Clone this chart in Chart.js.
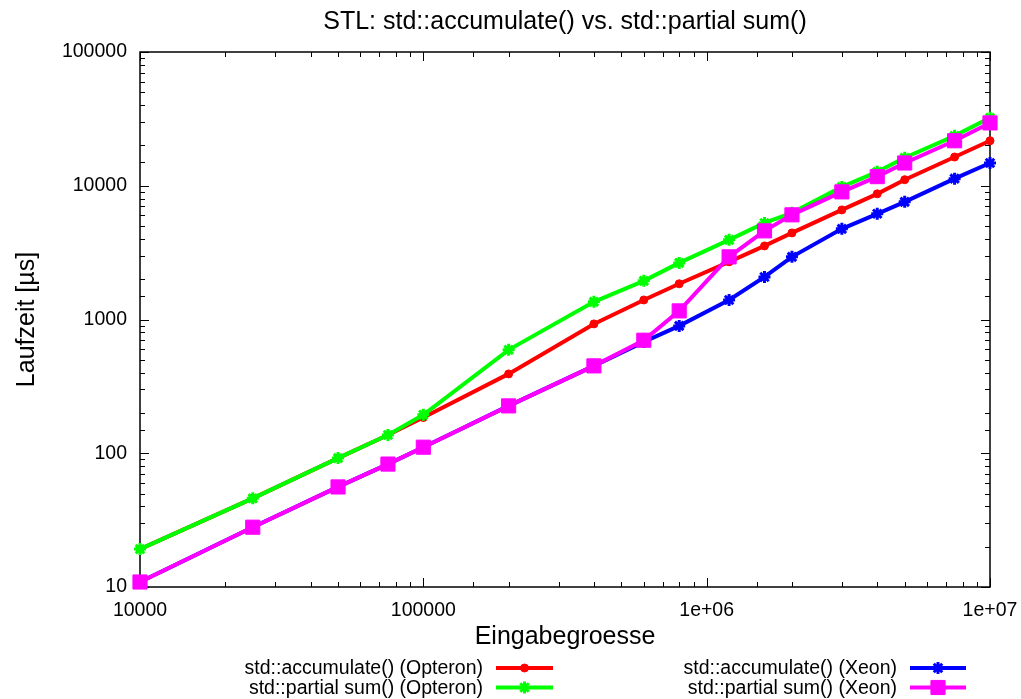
<!DOCTYPE html>
<html>
<head>
<meta charset="utf-8">
<title>STL: std::accumulate() vs. std::partial sum()</title>
<script src="https://cdn.jsdelivr.net/npm/chart.js@4.4.0/dist/chart.umd.min.js"></script>
<style>
  html, body { margin: 0; padding: 0; background: #fff; }
  canvas { display: block; }
</style>
</head>
<body>
<canvas id="stlChart" width="1021" height="699"></canvas>
<script>
// input sizes (Eingabegroesse)
const sizes = [10000, 25000, 50000, 75000, 100000, 200000, 400000, 600000, 800000,
  1200000, 1600000, 2000000, 3000000, 4000000, 5000000, 7500000, 10000000];

// run times in µs
const accOpteron  = [19.2, 46, 92, 137, 185, 392, 927, 1400, 1850, 2700, 3550, 4440, 6600, 8700, 11100, 16400, 21700];
const psumOpteron = [19.2, 46, 92, 137, 194, 593, 1355, 1945, 2650, 3940, 5270, 6270, 9800, 12700, 16200, 23600, 32200];
const accXeon     = [10.9, 28, 56, 83, 111, 226, 450, 680, 896, 1400, 2080, 2940, 4760, 6170, 7580, 11300, 14800];
const psumXeon    = [10.9, 28, 56, 83, 111, 226, 450, 700, 1160, 2940, 4600, 6060, 9000, 11700, 14800, 21700, 29500];

// labelled decades
const xTicks = [10000, 100000, 1000000, 10000000];
const yTicks = [10, 100, 1000, 10000, 100000];

const FONT = "'Liberation Sans', Arial, Helvetica, sans-serif";

function isDecade(v) {
  const e = Math.log10(v);
  return Math.abs(e - Math.round(e)) < 1e-9;
}

function hasTick(list, v) {
  return list.some(t => Math.abs(t - v) / t < 1e-9);
}

// gnuplot style: 100000, 1e+06, 1e+07
function gnuFmt(v) {
  if (v < 1e6) return String(Math.round(v));
  const e = Math.round(Math.log10(v));
  return '1e+' + String(e).padStart(2, '0');
}

function series(label, values, color, style, radius, bw, order) {
  return {
    label,
    data: sizes.map((s, i) => ({ x: s, y: values[i] })),
    borderColor: color,
    backgroundColor: color,
    borderWidth: 4,
    pointStyle: style,
    pointRadius: radius,
    pointBorderWidth: bw,
    pointBackgroundColor: color,
    pointBorderColor: color,
    tension: 0,
    clip: false,
    order
  };
}

// border box with inward ticks on all four sides
const gnuFrame = {
  id: 'gnuFrame',
  beforeDatasetsDraw(chart) {
    const { ctx, chartArea: a, scales: { x, y } } = chart;
    ctx.save();
    ctx.strokeStyle = '#000';
    ctx.lineWidth = 1;
    ctx.beginPath();
    x.ticks.forEach(t => {
      const px = Math.round(x.getPixelForValue(t.value)) + 0.5;
      const len = isDecade(t.value) ? 9 : 5;
      ctx.moveTo(px, a.bottom); ctx.lineTo(px, a.bottom - len);
      ctx.moveTo(px, a.top); ctx.lineTo(px, a.top + len);
    });
    y.ticks.forEach(t => {
      const py = Math.round(y.getPixelForValue(t.value)) + 0.5;
      const len = isDecade(t.value) ? 9 : 5;
      ctx.moveTo(a.left, py); ctx.lineTo(a.left + len, py);
      ctx.moveTo(a.right, py); ctx.lineTo(a.right - len, py);
    });
    ctx.stroke();
    ctx.lineWidth = 1.5;
    ctx.strokeRect(a.left, a.top, a.right - a.left, a.bottom - a.top);
    ctx.restore();
  }
};

// two-column key under the axis title, sample to the right of the text
const gnuKey = {
  id: 'gnuKey',
  afterDraw(chart) {
    const { ctx, chartArea: a } = chart;
    const cols = [{ textRight: 483, x0: 496, x1: 553 }, { textRight: 897, x0: 910, x1: 966 }];
    ctx.save();
    ctx.font = '19.5px ' + FONT;
    ctx.textAlign = 'right';
    ctx.textBaseline = 'middle';
    chart.data.datasets.forEach((ds, i) => {
      const col = cols[Math.floor(i / 2)];
      const yy = a.bottom + 81 + (i % 2) * 19.5;
      ctx.fillStyle = '#000';
      ctx.fillText(ds.label, col.textRight, yy + 1);
      ctx.strokeStyle = ds.borderColor;
      ctx.lineWidth = ds.borderWidth;
      ctx.beginPath();
      ctx.moveTo(col.x0, yy);
      ctx.lineTo(col.x1, yy);
      ctx.stroke();
      ctx.fillStyle = ds.pointBackgroundColor;
      ctx.strokeStyle = ds.pointBorderColor;
      ctx.lineWidth = ds.pointBorderWidth;
      Chart.helpers.drawPoint(ctx, {
        pointStyle: ds.pointStyle, radius: ds.pointRadius,
        borderWidth: ds.pointBorderWidth, rotation: 0
      }, (col.x0 + col.x1) / 2, yy);
    });
    ctx.restore();
  }
};

new Chart(document.getElementById('stlChart'), {
  type: 'line',
  data: {
    datasets: [
      series('std::accumulate() (Opteron)', accOpteron, '#ff0000', 'circle', 4, 1, 3),
      series('std::partial sum() (Opteron)', psumOpteron, '#00ff00', 'star', 6, 3, 1),
      series('std::accumulate() (Xeon)', accXeon, '#0000ff', 'star', 6, 3, 2),
      series('std::partial sum() (Xeon)', psumXeon, '#ff00ff', 'rect', 10, 1, 0)
    ]
  },
  options: {
    responsive: false,
    animation: false,
    layout: { padding: { left: 0, right: 31, top: 0, bottom: 47 } },
    plugins: {
      legend: { display: false },
      tooltip: { enabled: false },
      title: {
        display: true,
        fullSize: false,
        text: 'STL: std::accumulate() vs. std::partial sum()',
        color: '#000',
        font: { family: FONT, size: 25, weight: 'normal' },
        padding: { top: 7, bottom: 15 }
      }
    },
    scales: {
      x: {
        type: 'logarithmic',
        min: 10000,
        max: 10000000,
        grid: { display: false, drawTicks: false },
        border: { display: false },
        ticks: {
          autoSkip: false,
          maxRotation: 0,
          color: '#000',
          padding: 12,
          font: { family: FONT, size: 19.5 },
          callback: v => hasTick(xTicks, v) ? gnuFmt(v) : ''
        },
        title: {
          display: true,
          text: 'Eingabegroesse',
          color: '#000',
          font: { family: FONT, size: 25 },
          padding: { top: 0, bottom: 0 }
        },
        afterFit(s) {
          s.height = 65;
          s.paddingLeft = 0;
          s.paddingRight = 0;
        }
      },
      y: {
        type: 'logarithmic',
        min: 10,
        max: 100000,
        grid: { display: false, drawTicks: false },
        border: { display: false },
        ticks: {
          autoSkip: false,
          color: '#000',
          padding: 13,
          font: { family: FONT, size: 19.5 },
          callback: v => hasTick(yTicks, v) ? gnuFmt(v) : ''
        },
        title: {
          display: true,
          text: 'Laufzeit [µs]',
          color: '#000',
          font: { family: FONT, size: 25 },
          padding: { top: 12, bottom: 0 }
        },
        afterFit(s) { s.width = 140; }
      }
    }
  },
  plugins: [gnuFrame, gnuKey]
});
</script>
</body>
</html>
